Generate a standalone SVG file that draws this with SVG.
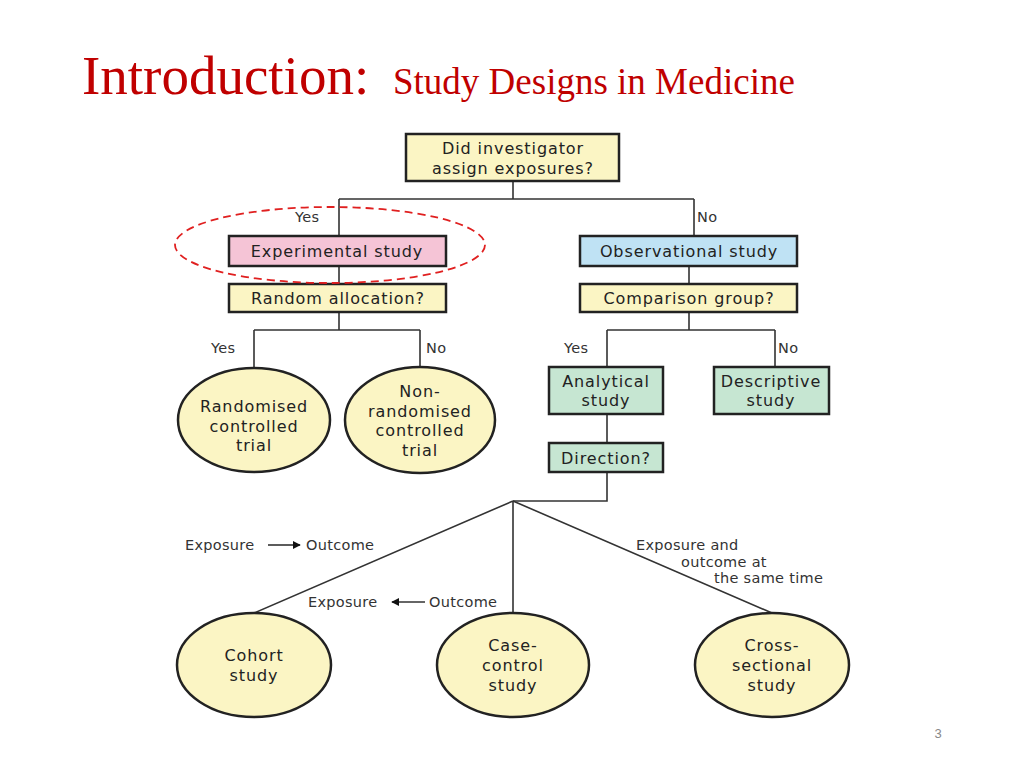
<svg xmlns="http://www.w3.org/2000/svg" width="1024" height="768" viewBox="0 0 1024 768">
<style>
.b{stroke:#222;stroke-width:2.5}
.y{fill:#fbf5c4}.p{fill:#f5c4d6}.c{fill:#bfe2f4}.g{fill:#c6e6d2}
.t{font-family:"DejaVu Sans",Verdana,sans-serif;font-size:16px;letter-spacing:0.9px;fill:#222;text-anchor:middle}
.l{font-family:"DejaVu Sans",Verdana,sans-serif;font-size:14.5px;letter-spacing:0.3px;fill:#333}
.w{stroke:#333;stroke-width:1.6;fill:none}
</style>
<defs><marker id="ah" viewBox="0 0 10 10" refX="9" refY="5" markerWidth="5" markerHeight="5" orient="auto"><path d="M0,0L10,5L0,10z" fill="#111"/></marker></defs>
<rect width="1024" height="768" fill="#fff"/>
<text x="82" y="94" font-family="Liberation Serif,serif" font-size="55" fill="#c00000">Introduction:</text>
<text x="393" y="94" font-family="Liberation Serif,serif" font-size="37" fill="#c00000">Study Designs in Medicine</text>
<g id="connectors" class="w">
<path d="M513,181V199M339,199H694M339,199V236M694,199V236M339,266V284M689,266V284"/>
<path d="M339,312V330M254,330H420M254,330V368M420,330V368"/>
<path d="M689,312V330M607,330H775M607,330V367M775,330V367"/>
<path d="M607,414V443M607,472V501H513"/>
<path d="M513,501L254,613M513,501V613M513,501L772,613"/>
<path d="M268,545H300" marker-end="url(#ah)"/>
<path d="M425,602H392" marker-end="url(#ah)"/>
</g>
<g class="l">
<text x="295" y="222">Yes</text><text x="697" y="222">No</text>
<text x="211" y="353">Yes</text><text x="426" y="353">No</text>
<text x="564" y="353">Yes</text><text x="778" y="353">No</text>
<text x="185" y="550">Exposure</text><text x="306" y="550">Outcome</text>
<text x="308" y="607">Exposure</text><text x="429" y="607">Outcome</text>
<text x="636" y="550">Exposure and</text><text x="681" y="567">outcome at</text><text x="714" y="583">the same time</text>
</g>
<g id="n-assign"><rect class="b y" x="406" y="134" width="213" height="47"/><text class="t" x="513" y="154">Did investigator</text><text class="t" x="513" y="174">assign exposures?</text></g>
<g id="n-exp"><rect class="b p" x="229" y="236" width="217" height="30"/><text class="t" x="337" y="257">Experimental study</text></g>
<g id="n-obs"><rect class="b c" x="580" y="236" width="217" height="30"/><text class="t" x="689" y="257">Observational study</text></g>
<g id="n-rand"><rect class="b y" x="229" y="284" width="217" height="28"/><text class="t" x="338" y="304">Random allocation?</text></g>
<g id="n-comp"><rect class="b y" x="580" y="284" width="217" height="28"/><text class="t" x="689" y="304">Comparison group?</text></g>
<g id="n-rct"><ellipse class="b y" cx="254" cy="420" rx="76" ry="52"/><text class="t" x="254" y="412">Randomised</text><text class="t" x="254" y="432">controlled</text><text class="t" x="254" y="451">trial</text></g>
<g id="n-nrct"><ellipse class="b y" cx="420" cy="420" rx="75" ry="53"/><text class="t" x="420" y="397">Non-</text><text class="t" x="420" y="417">randomised</text><text class="t" x="420" y="436">controlled</text><text class="t" x="420" y="456">trial</text></g>
<g id="n-ana"><rect class="b g" x="549" y="367" width="114" height="47"/><text class="t" x="606" y="387">Analytical</text><text class="t" x="606" y="406">study</text></g>
<g id="n-desc"><rect class="b g" x="714" y="367" width="115" height="47"/><text class="t" x="771" y="387">Descriptive</text><text class="t" x="771" y="406">study</text></g>
<g id="n-dir"><rect class="b g" x="549" y="443" width="114" height="29"/><text class="t" x="606" y="464">Direction?</text></g>
<g id="n-cohort"><ellipse class="b y" cx="254" cy="665" rx="77" ry="52"/><text class="t" x="254" y="661">Cohort</text><text class="t" x="254" y="681">study</text></g>
<g id="n-cc"><ellipse class="b y" cx="513" cy="665" rx="76" ry="52"/><text class="t" x="513" y="651">Case-</text><text class="t" x="513" y="671">control</text><text class="t" x="513" y="691">study</text></g>
<g id="n-cs"><ellipse class="b y" cx="772" cy="665" rx="77" ry="52"/><text class="t" x="772" y="651">Cross-</text><text class="t" x="772" y="671">sectional</text><text class="t" x="772" y="691">study</text></g>
<ellipse cx="330" cy="245" rx="155" ry="38" fill="none" stroke="#e02020" stroke-width="1.8" stroke-dasharray="8,5"/>
<text x="938" y="738" font-family="Liberation Sans,Arial,sans-serif" font-size="13" fill="#888" text-anchor="middle">3</text>
</svg>
